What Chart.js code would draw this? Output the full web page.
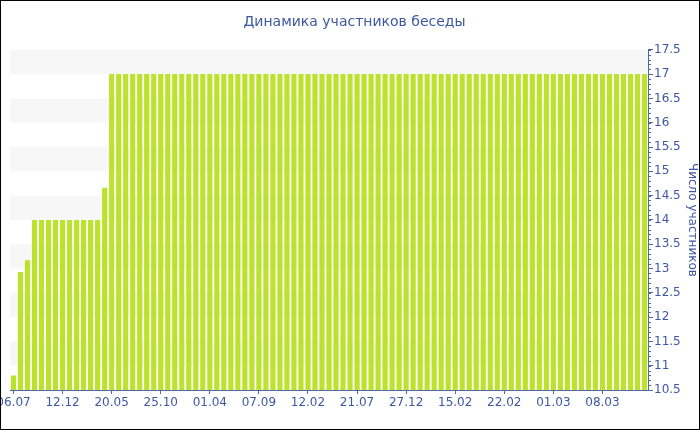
<!DOCTYPE html>
<html>
<head>
<meta charset="utf-8">
<script src="https://cdn.jsdelivr.net/npm/chart.js@4/dist/chart.umd.min.js"></script>
<style>
  html, body { margin: 0; padding: 0; background: #fff; }
  #wrap { width: 698px; height: 428px; border: 1px solid #000; position: relative; }
</style>
</head>
<body>
<div id="wrap"><canvas id="spaceForGraphic" width="698" height="428"></canvas></div>
<script>
// подписи оси X (каждая 7-я категория)
const tickLabels = ["06.07", "12.12", "20.05", "25.10", "01.04", "07.09", "12.02",
  "21.07", "27.12", "15.02", "22.02", "01.03", "08.03"];

// значения первых столбцов, дальше все по 17
const startValues = [10.8, 12.93, 13.17, 14, 14, 14, 14, 14, 14, 14, 14, 14, 14, 14.66];
const plateauValues = [
  17, 17, 17, 17, 17, 17, 17, 17, 17, 17, 17, 17, 17, 17, 17, 17, 17, 17, 17, 17,
  17, 17, 17, 17, 17, 17, 17, 17, 17, 17, 17, 17, 17, 17, 17, 17, 17, 17, 17, 17,
  17, 17, 17, 17, 17, 17, 17, 17, 17, 17, 17, 17, 17, 17, 17, 17, 17, 17, 17, 17,
  17, 17, 17, 17, 17, 17, 17, 17, 17, 17, 17, 17, 17, 17, 17, 17, 17
];
const values = startValues.concat(plateauValues);

const labels = values.map((v, i) => (i % 7 === 0 ? tickLabels[i / 7] : ""));

const blue = "#3d58a3";
const axisColor = "#4f66a8";

// полосы фона и мелкие риски на оси Y
const bandsPlugin = {
  id: "bands",
  beforeDraw(chart) {
    const { ctx, chartArea } = chart;
    const y = chart.scales.y;
    ctx.save();
    ctx.fillStyle = "#f7f7f7";
    for (let v = 11; v < 17.5; v += 1) {
      const top = y.getPixelForValue(v + 0.5);
      const bottom = y.getPixelForValue(v);
      ctx.fillRect(chartArea.left, top, chartArea.right - chartArea.left, bottom - top);
    }
    ctx.restore();
  },
  afterDraw(chart) {
    const { ctx, chartArea } = chart;
    const y = chart.scales.y;
    ctx.save();
    ctx.strokeStyle = axisColor;
    ctx.lineWidth = 1;
    ctx.beginPath();
    for (let k = 105; k <= 175; k++) {
      const py = Math.round(y.getPixelForValue(k / 10)) + 0.5;
      ctx.moveTo(chartArea.right, py);
      ctx.lineTo(chartArea.right + 3, py);
    }
    ctx.stroke();
    ctx.restore();
  }
};

new Chart(document.getElementById("spaceForGraphic"), {
  type: "bar",
  data: {
    labels: labels,
    datasets: [{
      label: "Число участников",
      data: values,
      backgroundColor: "#bde22e",
      barPercentage: 0.74,
      categoryPercentage: 1
    }]
  },
  options: {
    responsive: false,
    animation: false,
    layout: { padding: { left: 9, right: 0, top: 0, bottom: 0 } },
    plugins: {
      legend: { display: false },
      tooltip: { enabled: false },
      title: {
        display: true,
        text: "Динамика участников беседы",
        color: blue,
        font: { family: "DejaVu Sans", size: 14, weight: "normal" },
        padding: { top: 13, bottom: 19 }
      }
    },
    scales: {
      x: {
        offset: true,
        grid: {
          offset: false,
          drawOnChartArea: false,
          tickLength: 4,
          color: (c) => (c.index % 7 === 0 ? axisColor : "transparent")
        },
        border: { color: axisColor, width: 1 },
        ticks: {
          autoSkip: false,
          maxRotation: 0,
          color: blue,
          padding: 2,
          font: { family: "DejaVu Sans", size: 12 }
        },
        afterFit(scale) {
          scale.height = 39;
          scale.paddingLeft = 0;
          scale.paddingRight = 0;
        }
      },
      y: {
        position: "right",
        min: 10.5,
        max: 17.5,
        ticks: {
          stepSize: 0.5,
          color: blue,
          padding: 1,
          font: { family: "DejaVu Sans", size: 12 },
          callback: (v) => String(Math.round(v * 10) / 10)
        },
        grid: { drawOnChartArea: false, tickLength: 5, color: axisColor },
        border: { color: axisColor, width: 1 },
        title: {
          display: true,
          text: "Число участников",
          color: blue,
          padding: { top: 0, bottom: 0 },
          font: { family: "DejaVu Sans", size: 12 }
        },
        afterFit(scale) {
          scale.width = 51;
          scale.paddingTop = 0;
          scale.paddingBottom = 0;
        }
      }
    }
  },
  plugins: [bandsPlugin]
});
</script>
</body>
</html>
